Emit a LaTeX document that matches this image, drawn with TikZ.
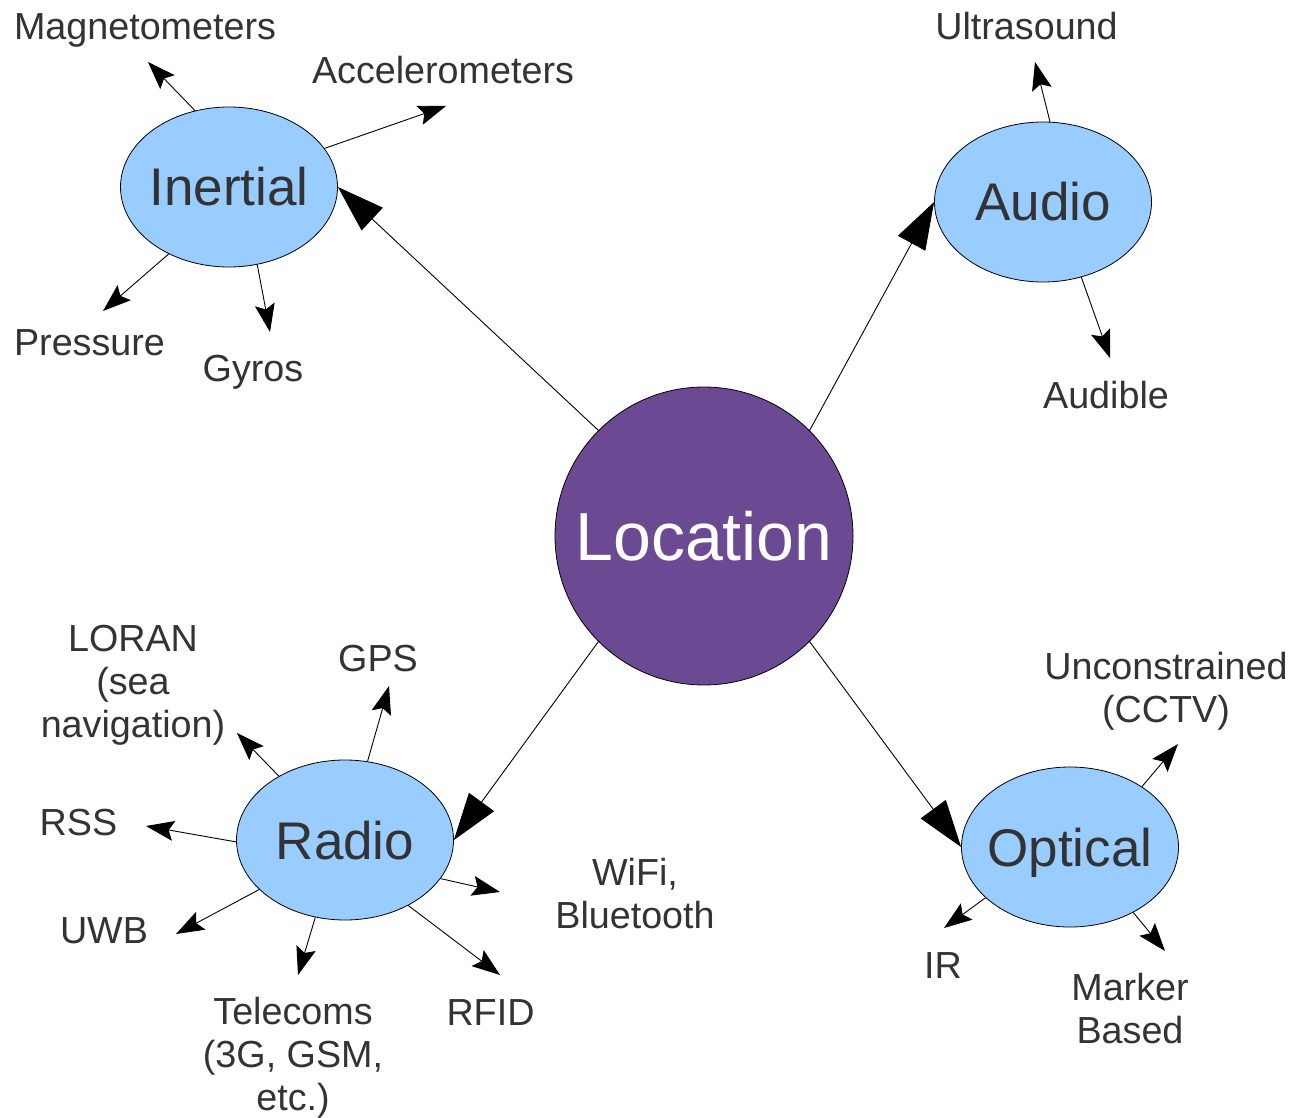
\documentclass[tikz,border=0pt]{standalone}
\usepackage{fontspec}
\setmainfont{Liberation Sans}
\usetikzlibrary{shapes.geometric,arrows.meta}
\definecolor{satblue}{HTML}{99CCFF}
\definecolor{locpurple}{HTML}{6B4A93}
\definecolor{labelgray}{HTML}{333333}
\begin{document}
\begin{tikzpicture}[x=1pt,y=-1pt,
 sat/.style={ellipse, draw=black, line width=0.8pt, fill=satblue, minimum width=217pt, minimum height=160pt, inner xsep=-25pt, inner ysep=0pt, text=labelgray, font=\fontsize{53}{60}\selectfont, text height=38pt, text depth=0pt},
 locnode/.style={circle, draw=black, line width=0.8pt, fill=locpurple, minimum size=298pt, inner sep=0pt, text=white, font=\fontsize{68}{78}\selectfont, text height=48.5pt, text depth=0pt},
 lbl/.style={anchor=base, inner sep=0pt, text=labelgray, font=\fontsize{37.7}{43}\selectfont, align=center},
 mainarrow/.style={line width=0.9pt, -{Triangle[length=47pt,width=31pt]}},
 subarrow/.style={line width=0.9pt, -{Stealth[length=28pt,width=20pt,inset=5pt]}}]
\useasboundingbox[fill=white] (0,0) rectangle (1293,1118);

% main nodes
\node[locnode] (loc) at (704,536) {Location};
\node[sat] (inertial) at (229,187) {Inertial};
\node[sat] (audio) at (1043,202) {Audio};
\node[sat] (radio) at (345,840) {Radio};
\node[sat] (optical) at (1070,847) {Optical};

% labels (base = baseline of last line)
\node[lbl] (mag) at (145,40) {Magnetometers};
\node[lbl] (acc) at (443,84) {Accelerometers};
\node[lbl] (pres) at (89.5,355) {Pressure};
\node[lbl] (gyr) at (253,381) {Gyros};
\node[lbl] (ultra) at (1026.5,40) {Ultrasound};
\node[lbl] (aud) at (1106,408) {Audible};
\node[lbl] (loran) at (133,737) {LORAN\\(sea\\navigation)};
\node[lbl] (gps) at (378,671) {GPS};
\node[lbl] (rss) at (78.5,835) {RSS};
\node[lbl] (uwb) at (104,943) {UWB};
\node[lbl] (tel) at (293,1110) {Telecoms\\(3G, GSM,\\etc.)};
\node[lbl] (rfid) at (490.5,1025) {RFID};
\node[lbl] (wifi) at (635,928) {WiFi,\\Bluetooth};
\node[lbl] (uncon) at (1166,722) {Unconstrained\\(CCTV)};
\node[lbl] (ir) at (943,978) {IR};
\node[lbl] (marker) at (1130,1043) {Marker\\Based};

% arrow tip coordinates
\coordinate (magT) at (148,62);
\coordinate (accT) at (446,106);
\coordinate (presT) at (103,311);
\coordinate (gyrT) at (270,332);
\coordinate (ultraT) at (1035,62);
\coordinate (audT) at (1110,358);
\coordinate (loranT) at (237,733);
\coordinate (gpsT) at (389,686);
\coordinate (rssT) at (146,826);
\coordinate (uwbT) at (176,934);
\coordinate (telT) at (298,975);
\coordinate (rfidT) at (500,975);
\coordinate (wifiT) at (500,892);
\coordinate (unconT) at (1178,744);
\coordinate (irT) at (944,928);
\coordinate (markerT) at (1165,951);

% main connectors
\draw[mainarrow] (loc.135) -- (inertial.0);
\draw[mainarrow] (loc.45) -- (audio.180);
\draw[mainarrow] (loc.225) -- (radio.0);
\draw[mainarrow] (loc.315) -- (optical.180);

% sub connectors
\draw[subarrow] (inertial.114) -- (magT);
\draw[subarrow] (inertial.22.4) -- (accT);
\draw[subarrow] (inertial.228) -- (presT);
\draw[subarrow] (inertial.290.4) -- (gyrT);
\draw[subarrow] (audio.85) -- (ultraT);
\draw[subarrow] (audio.297.7) -- (audT);
\draw[subarrow] (radio.136) -- (loranT);
\draw[subarrow] (radio.74.2) -- (gpsT);
\draw[subarrow] (radio.181) -- (rssT);
\draw[subarrow] (radio.210) -- (uwbT);
\draw[subarrow] (radio.249) -- (telT);
\draw[subarrow] (radio.314.6) -- (rfidT);
\draw[subarrow] (radio.338.4) -- (wifiT);
\draw[subarrow] (optical.40.7) -- (unconT);
\draw[subarrow] (optical.211.5) -- (irT);
\draw[subarrow] (optical.314.6) -- (markerT);
\end{tikzpicture}
\end{document}
